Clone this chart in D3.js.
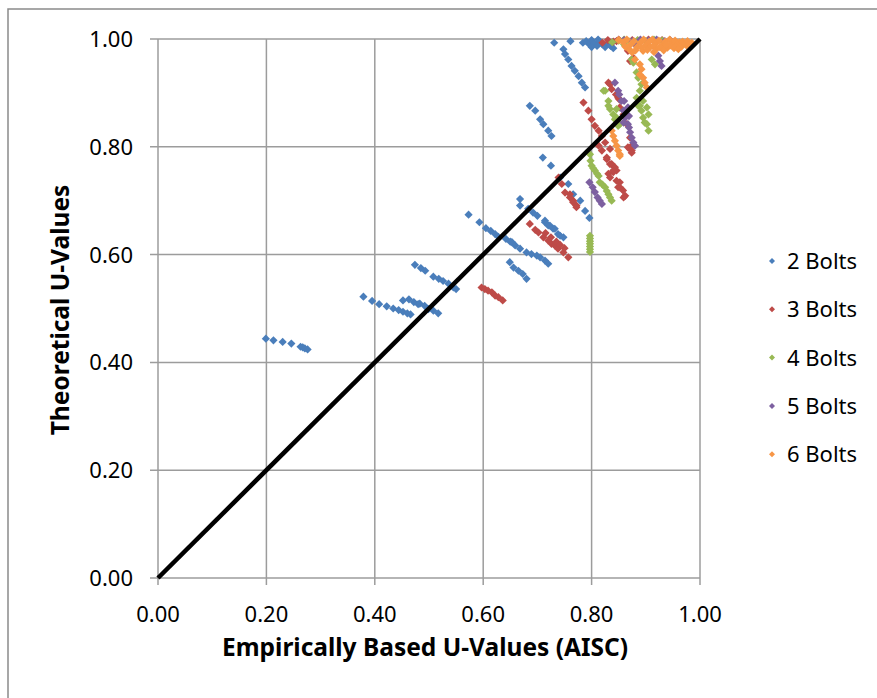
<!DOCTYPE html>
<html><head><meta charset="utf-8">
<script src="https://cdn.jsdelivr.net/npm/d3@7"></script>
<style>body{margin:0;background:#fff}svg{display:block}</style>
</head><body><svg id="c" width="877" height="698"></svg>
<script>
const seriesNames = ["2 Bolts","3 Bolts","4 Bolts","5 Bolts","6 Bolts"];
const seriesColors = ["#4A7EBB","#BE4B48","#98B954","#7D60A0","#F79646"];
const tickValues = [0,0.2,0.4,0.6,0.8,1.0];
const xTitle = "Empirically Based U-Values (AISC)";
const yTitle = "Theoretical U-Values";
const refLine = [[0,0],[1,1]];

const bolts2 = [
[0.199,0.444],[0.213,0.441],[0.230,0.438],[0.246,0.435],[0.263,0.429],[0.267,0.428],[0.271,0.426],[0.276,0.424],
[0.379,0.522],[0.395,0.514],[0.408,0.508],[0.422,0.504],[0.434,0.500],[0.444,0.497],[0.452,0.494],[0.460,0.491],[0.466,0.489],
[0.452,0.515],[0.463,0.517],[0.472,0.512],[0.480,0.508],
[0.474,0.581],[0.485,0.575],[0.493,0.570],[0.508,0.559],[0.518,0.555],[0.526,0.551],[0.536,0.546],[0.545,0.539],[0.550,0.536],
[0.483,0.509],[0.492,0.505],[0.499,0.499],[0.508,0.496],[0.517,0.491],
[0.573,0.674],[0.593,0.660],[0.605,0.649],[0.614,0.644],[0.622,0.638],[0.628,0.633],[0.642,0.629],[0.650,0.624],
[0.668,0.703],[0.668,0.691],[0.683,0.685],[0.692,0.678],[0.700,0.672],[0.714,0.660],[0.720,0.654],[0.729,0.648],[0.738,0.638],[0.748,0.632],
[0.653,0.623],[0.659,0.617],[0.668,0.611],[0.680,0.604],[0.689,0.601],[0.699,0.598],[0.705,0.595],[0.714,0.589],[0.720,0.583],
[0.649,0.586],[0.656,0.576],[0.665,0.570],[0.673,0.564],[0.680,0.555],
[0.710,0.780],[0.725,0.765],[0.742,0.743],[0.757,0.731],[0.766,0.712],[0.779,0.700],[0.788,0.681],[0.796,0.668],
[0.714,0.663],[0.723,0.654],[0.732,0.648],[0.742,0.635],
[0.686,0.876],[0.696,0.867],[0.705,0.851],[0.711,0.842],[0.720,0.830],[0.726,0.820],
[0.731,0.993],[0.761,0.996],[0.748,0.981],[0.751,0.972],[0.757,0.962],[0.763,0.950],[0.769,0.941],[0.776,0.931],[0.782,0.919],[0.788,0.910],
[0.784,0.993],[0.790,0.996],[0.796,0.990],[0.800,0.998],[0.805,0.992],[0.810,0.987],[0.815,0.995],[0.820,0.990],[0.825,0.985],[0.830,0.992],[0.835,0.987],[0.840,0.983],[0.800,0.985],[0.812,0.999]
];
const bolts3 = [
[0.597,0.539],[0.603,0.536],[0.609,0.533],[0.616,0.530],[0.622,0.524],[0.628,0.521],[0.636,0.515],
[0.686,0.657],[0.696,0.646],[0.702,0.641],[0.711,0.632],[0.720,0.626],[0.726,0.620],[0.732,0.617],[0.738,0.611],[0.748,0.604],[0.757,0.595],
[0.715,0.640],[0.725,0.632],[0.735,0.624],[0.742,0.618],[0.750,0.612],
[0.739,0.743],[0.745,0.731],[0.760,0.712],[0.766,0.700],[0.772,0.691],
[0.751,0.715],[0.760,0.706],[0.766,0.697],[0.772,0.688],
[0.813,0.802],[0.825,0.808],[0.819,0.793],[0.834,0.796],[0.828,0.777],[0.837,0.768],[0.843,0.762],[0.831,0.750],[0.840,0.753],[0.846,0.756],[0.834,0.743],[0.846,0.737],[0.852,0.734],[0.849,0.725],[0.858,0.719],[0.862,0.709],[0.867,0.799],[0.874,0.793],[0.828,0.780],[0.834,0.768],[0.840,0.756],[0.852,0.725],[0.859,0.706],
[0.785,0.882],[0.794,0.867],[0.800,0.851],[0.806,0.839],[0.813,0.830],[0.819,0.820],[0.831,0.919],[0.837,0.907],[0.834,0.916],[0.845,0.897],[0.851,0.888],
[0.849,0.891],[0.852,0.873],[0.859,0.860],[0.865,0.842],[0.871,0.817],[0.874,0.802],[0.871,0.796],[0.874,0.789],
[0.867,0.978],[0.871,0.959],[0.877,0.965],
[0.820,0.993],[0.830,0.998],[0.840,0.995],[0.846,0.996],[0.850,0.999],[0.860,0.996],[0.875,0.998],[0.890,0.997],[0.905,0.999],[0.920,0.996],[0.930,0.998]
];
const bolts4 = [
[0.797,0.635],[0.797,0.630],[0.797,0.625],[0.797,0.620],[0.797,0.615],[0.797,0.610],[0.797,0.605],
[0.797,0.786],[0.798,0.774],[0.800,0.765],[0.806,0.756],[0.813,0.746],[0.815,0.734],[0.825,0.725],[0.831,0.712],[0.837,0.700],
[0.803,0.760],[0.810,0.750],[0.820,0.730],[0.828,0.718],[0.834,0.706],
[0.825,0.904],[0.831,0.885],[0.834,0.870],[0.822,0.904],[0.831,0.876],[0.840,0.860],[0.843,0.851],[0.849,0.839],[0.846,0.870],[0.846,0.854],[0.852,0.842],
[0.874,0.962],[0.877,0.956],[0.883,0.938],[0.886,0.928],[0.892,0.916],[0.889,0.904],[0.895,0.885],[0.902,0.873],[0.905,0.860],[0.889,0.876],[0.895,0.854],[0.902,0.842],[0.905,0.830],[0.883,0.891],[0.886,0.876],[0.892,0.867],[0.898,0.845],
[0.911,0.962],[0.917,0.953],
[0.838,0.994],[0.850,0.997],[0.860,0.999],[0.870,0.995],[0.885,0.998],[0.900,0.996],[0.915,0.999],[0.930,0.997],[0.860,0.990]
];
const bolts5 = [
[0.796,0.734],[0.802,0.725],[0.806,0.716],[0.811,0.706],[0.815,0.700],[0.819,0.694],
[0.843,0.919],[0.849,0.904],[0.855,0.885],[0.859,0.867],[0.862,0.854],[0.867,0.842],[0.851,0.897],[0.860,0.885],[0.867,0.873],[0.869,0.857],[0.859,0.845],[0.869,0.836],[0.871,0.827],[0.874,0.817],[0.877,0.808],[0.880,0.802],
[0.917,0.984],[0.923,0.969],[0.926,0.959],[0.929,0.950],
[0.860,0.998],[0.875,0.996],[0.890,0.999],[0.905,0.997],[0.920,0.999],[0.935,0.996],[0.945,0.998],[0.880,0.990]
];
const bolts6 = [
[0.843,0.811],[0.846,0.802],[0.849,0.793],[0.852,0.783],[0.837,0.830],[0.840,0.820],[0.852,0.786],
[0.880,0.962],[0.889,0.953],[0.892,0.944],[0.895,0.928],[0.898,0.919],[0.902,0.910],[0.889,0.934],
[0.850,0.998],[0.858,0.994],[0.865,0.999],[0.872,0.990],[0.878,0.996],[0.884,0.985],[0.890,0.993],[0.896,0.999],[0.900,0.988],[0.906,0.995],[0.908,0.985],[0.912,0.999],[0.918,0.992],[0.924,0.997],[0.930,0.988],[0.936,0.995],[0.940,0.984],[0.944,0.999],[0.948,0.992],[0.954,0.997],[0.958,0.989],[0.962,0.994],[0.966,0.986],[0.970,0.992],[0.975,0.988],[0.980,0.990],[0.870,0.980],[0.875,0.975],[0.920,0.982],[0.895,0.978],
[0.862,0.986],[0.881,0.979],[0.892,0.984],[0.903,0.980],[0.914,0.987],[0.926,0.985],[0.933,0.979],[0.945,0.988],[0.952,0.983],[0.960,0.981],[0.968,0.995],[0.977,0.996],[0.985,0.993],[0.915,0.976],[0.938,0.990]
];
const allSeries = [bolts2,bolts3,bolts4,bolts5,bolts6];

const svg = d3.select("#c");
const W = 877, H = 698;
const x = d3.scaleLinear().domain([0,1]).range([158,700]);
const y = d3.scaleLinear().domain([0,1]).range([578,39]);
const font = "'Noto Sans', 'Open Sans', sans-serif";
const gridColor = "#9c9c9c";

// outer chart border
svg.append("path").attr("d", `M8,${H} V9 H${W}`).attr("fill","none").attr("stroke","#8a8a8a").attr("stroke-width",1.5);

// gridlines
const g = svg.append("g");
g.selectAll(".gx").data(tickValues).join("line")
  .attr("x1", d=>x(d)).attr("x2", d=>x(d)).attr("y1", y(1)).attr("y2", y(0)+7)
  .attr("stroke", gridColor).attr("stroke-width",1.5);
g.selectAll(".gy").data(tickValues).join("line")
  .attr("y1", d=>y(d)).attr("y2", d=>y(d)).attr("x1", x(0)-8).attr("x2", x(1))
  .attr("stroke", gridColor).attr("stroke-width",1.5);

// tick labels
const fmt = d3.format(".2f");
svg.selectAll(".ty").data(tickValues).join("text")
  .attr("x", 133).attr("y", d=>y(d)+8).attr("text-anchor","end")
  .attr("font-family", font).attr("font-size", 22).attr("fill","#000").text(fmt);
svg.selectAll(".tx").data(tickValues).join("text")
  .attr("x", d=>x(d)).attr("y", 622).attr("text-anchor","middle")
  .attr("font-family", font).attr("font-size", 22).attr("fill","#000").text(fmt);

// axis titles
svg.append("text").attr("x", 425).attr("y", 656).attr("text-anchor","middle")
  .attr("font-family", font).attr("font-weight","bold").attr("font-size", 24.5).text(xTitle);
svg.append("text").attr("transform","translate(69,310) rotate(-90)").attr("text-anchor","middle")
  .attr("font-family", font).attr("font-weight","bold").attr("font-size", 24.5).text(yTitle);

// markers
const diamond = r => `M0,${-r}L${r},0L0,${r}L${-r},0Z`;
allSeries.forEach((s,i)=>{
  svg.append("g").selectAll("path").data(s).join("path")
    .attr("d", diamond(4.1))
    .attr("transform", d=>`translate(${x(d[0])},${y(d[1])})`)
    .attr("fill", seriesColors[i]);
});

// reference line
svg.append("path").datum(refLine)
  .attr("d", d3.line().x(d=>x(d[0])).y(d=>y(d[1])))
  .attr("stroke","#000").attr("stroke-width",4.5).attr("fill","none");

// legend
const lg = svg.append("g");
seriesNames.forEach((n,i)=>{
  const cy = 261 + i*48.3;
  lg.append("path").attr("d", diamond(3)).attr("transform",`translate(772,${cy})`).attr("fill", seriesColors[i]);
  lg.append("text").attr("x",787).attr("y",cy+8).attr("font-family",font).attr("font-size",22).text(n);
});
</script>
</body></html>
